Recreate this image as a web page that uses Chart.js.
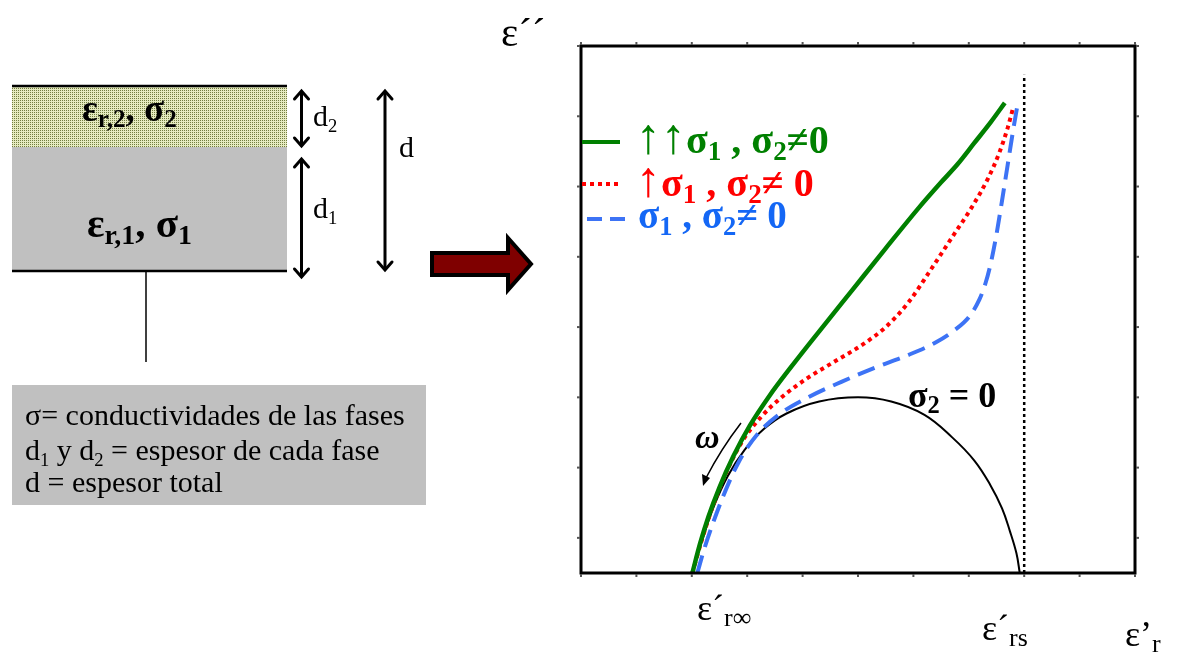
<!DOCTYPE html>
<html>
<head>
<meta charset="utf-8">
<title>Permitividad de un sistema de dos fases</title>
<script src="https://cdn.jsdelivr.net/npm/chart.js@4.4.1/dist/chart.umd.min.js"></script>
<style>
body { margin: 0; background: #fff; }
#wrap { position: relative; width: 1177px; height: 652px; overflow: hidden; font-family: "Liberation Serif", "Times New Roman", serif; color: #000; }
#wrap canvas { position: absolute; left: 0; top: 0; }
.t { position: absolute; white-space: nowrap; }
.s { font-size: 0.62em; position: relative; top: 0.3em; }
.g .s { font-size: 0.68em; top: 0.25em; }
.e .s { font-size: 0.72em; top: 0.22em; }
.b { font-weight: bold; }
.n { font-weight: normal; font-size: 1.25em; line-height: 0; }
</style>
</head>
<body>
<div id="wrap">
<canvas id="myChart" width="1177" height="652"></canvas>

<!-- esquema de las dos capas -->
<div class="t b g" style="left:82px;top:90px;font-size:37px;line-height:37px">ε<span class="s">r,2</span>, σ<span class="s">2</span></div>
<div class="t b g" style="left:87px;top:203px;font-size:41px;line-height:41px">ε<span class="s">r,1</span>, σ<span class="s">1</span></div>
<div class="t" style="left:313px;top:101px;font-size:30px;line-height:30px">d<span class="s">2</span></div>
<div class="t" style="left:313px;top:193px;font-size:30px;line-height:30px">d<span class="s">1</span></div>
<div class="t" style="left:399px;top:132px;font-size:30px;line-height:30px">d</div>
<div class="t" style="left:25px;top:400px;font-size:30px;line-height:30px">σ= conductividades de las fases</div>
<div class="t" style="left:25px;top:435px;font-size:30px;line-height:30px">d<span class="s">1</span> y d<span class="s">2</span> = espesor de cada fase</div>
<div class="t" style="left:25px;top:467px;font-size:30px;line-height:30px">d = espesor total</div>

<!-- ejes -->
<div class="t" style="left:501px;top:12px;font-size:41px;line-height:41px">ε´´</div>
<div class="t e" style="left:697px;top:590px;font-size:36px;line-height:36px">ε´<span class="s">r∞</span></div>
<div class="t e" style="left:982px;top:610px;font-size:36px;line-height:36px">ε´<span class="s">rs</span></div>
<div class="t e" style="left:1125px;top:616px;font-size:36px;line-height:36px">ε’<span class="s">r</span></div>

<!-- leyenda y anotaciones -->
<div class="t b g" style="left:636px;top:120px;font-size:40px;line-height:40px;color:#008000"><span class="n">↑↑</span>σ<span class="s">1</span> , σ<span class="s">2</span>≠0</div>
<div class="t b g" style="left:636px;top:163px;font-size:40px;line-height:40px;color:#ff0000"><span class="n">↑</span>σ<span class="s">1</span> , σ<span class="s">2</span>≠ 0</div>
<div class="t b g" style="left:638px;top:195px;font-size:39px;line-height:39px;color:#1467f5">σ<span class="s">1</span> , σ<span class="s">2</span>≠ 0</div>
<div class="t b g" style="left:908px;top:377px;font-size:36px;line-height:36px">σ<span class="s">2</span> = 0</div>
<div class="t b" style="left:695px;top:420px;font-size:34px;line-height:34px;font-style:italic">ω</div>
</div>

<script>
// marcas de los ejes (sin etiquetas numericas)
var xTicks = [0, 1, 2, 3, 4, 5, 6, 7, 8, 9, 10];
var yTicks = [0.5, 1.5, 2.5, 3.5, 4.5, 5.5, 6.5, 7.5];

// σ2 = 0 : semicirculo de Debye
var sigma0X = [2.01, 2.19, 2.4, 2.65, 2.95, 3.3, 3.71, 4.3, 5.0, 5.6, 6.2, 6.7, 7.1, 7.39, 7.6, 7.74, 7.86, 7.92];
var sigma0Y = [0, 0.47, 0.95, 1.38, 1.75, 2.05, 2.27, 2.44, 2.5, 2.44, 2.25, 1.93, 1.6, 1.25, 0.92, 0.6, 0.28, 0];

// ↑↑σ1 , σ2≠0
var verdeX = [2.01, 2.15, 2.3, 2.5, 2.75, 3.05, 3.4, 3.8, 4.3, 4.9, 5.5, 6.1, 6.5, 6.8, 7.1, 7.4, 7.65];
var verdeY = [0, 0.42, 0.8, 1.22, 1.66, 2.1, 2.52, 2.94, 3.44, 4.03, 4.62, 5.2, 5.56, 5.82, 6.12, 6.42, 6.69];

// ↑σ1 , σ2≠0
var rojoX = [2.01, 2.17, 2.37, 2.6, 2.9, 3.25, 3.65, 4.1, 4.6, 5.1, 5.5, 5.9, 6.3, 6.7, 7.05, 7.35, 7.55, 7.7, 7.8];
var rojoY = [0, 0.44, 0.93, 1.39, 1.86, 2.22, 2.52, 2.78, 3.02, 3.26, 3.5, 3.84, 4.3, 4.78, 5.2, 5.62, 5.98, 6.33, 6.62];

// σ1 , σ2≠0
var azulX = [2.1, 2.22, 2.36, 2.57, 2.84, 3.18, 3.6, 4.1, 4.7, 5.3, 5.9, 6.4, 6.75, 7.0, 7.19, 7.3, 7.4, 7.5, 7.6, 7.7, 7.8, 7.87];
var azulY = [0, 0.33, 0.66, 1.1, 1.57, 1.97, 2.27, 2.5, 2.72, 2.92, 3.1, 3.28, 3.46, 3.64, 3.89, 4.12, 4.42, 4.82, 5.3, 5.8, 6.3, 6.62];

// ε'rs
var limiteX = [8, 8];
var limiteY = [0, 7.09];

function puntos(xs, ys) {
	return xs.map(function(x, i) { return { x: x, y: ys[i] }; });
}

function linea(c, x1, y1, x2, y2) {
	c.beginPath();
	c.moveTo(x1, y1);
	c.lineTo(x2, y2);
	c.stroke();
}

// flecha de doble punta con puntas abiertas
function flechaDoble(c, x, y1, y2) {
	c.lineWidth = 3;
	c.lineCap = 'round';
	c.lineJoin = 'miter';
	linea(c, x, y1 + 1, x, y2 - 1);
	c.beginPath();
	c.moveTo(x - 7, y1 + 8); c.lineTo(x, y1); c.lineTo(x + 7, y1 + 8);
	c.stroke();
	c.beginPath();
	c.moveTo(x - 7, y2 - 8); c.lineTo(x, y2); c.lineTo(x + 7, y2 - 8);
	c.stroke();
}

var esquema = {
	id: 'esquema',
	afterDraw: function(chart) {
		var c = chart.ctx;
		c.save();

		// textura punteada de la fase 2
		var tile = document.createElement('canvas');
		tile.width = 2; tile.height = 2;
		var tc = tile.getContext('2d');
		tc.fillStyle = '#e6ebc0'; tc.fillRect(0, 0, 2, 2);
		tc.fillStyle = '#727d40'; tc.fillRect(0, 0, 1, 1);
		c.fillStyle = c.createPattern(tile, 'repeat');
		c.fillRect(12, 87, 275, 60);

		c.fillStyle = '#c0c0c0';
		c.fillRect(12, 147, 275, 124);
		c.fillRect(12, 385, 414, 120);

		c.strokeStyle = '#000';
		c.lineWidth = 2.5;
		linea(c, 12, 86, 287, 86);
		linea(c, 12, 271, 287, 271);
		c.lineWidth = 1.5;
		linea(c, 146, 271, 146, 362);

		flechaDoble(c, 301.5, 91, 146);
		flechaDoble(c, 301.5, 159, 277);
		flechaDoble(c, 385, 91, 270);

		// flecha grande
		c.beginPath();
		c.moveTo(432, 253); c.lineTo(508, 253); c.lineTo(508, 238);
		c.lineTo(531, 264); c.lineTo(508, 290); c.lineTo(508, 275);
		c.lineTo(432, 275); c.closePath();
		c.fillStyle = '#7f0000';
		c.fill();
		c.lineWidth = 4;
		c.lineJoin = 'miter';
		c.stroke();

		// sentido de ω creciente
		c.lineWidth = 1.5;
		c.lineCap = 'butt';
		c.beginPath();
		c.moveTo(741, 423);
		c.quadraticCurveTo(721, 449, 706, 478);
		c.stroke();
		c.beginPath();
		c.moveTo(703, 486); c.lineTo(702, 474); c.lineTo(710, 478);
		c.closePath();
		c.fillStyle = '#000';
		c.fill();
		c.restore();
	}
};

var marco = {
	id: 'marco',
	afterDatasetsDraw: function(chart) {
		var c = chart.ctx, a = chart.chartArea;
		var sx = chart.scales.x, sy = chart.scales.y;
		c.save();
		c.strokeStyle = '#000';
		c.lineWidth = 3;
		c.lineCap = 'square';
		c.strokeRect(a.left, a.top, a.right - a.left, a.bottom - a.top);
		c.lineWidth = 2;
		c.lineCap = 'butt';
		c.strokeStyle = '#555';
		xTicks.forEach(function(v) {
			var p = sx.getPixelForValue(v);
			linea(c, p, a.bottom + 1, p, a.bottom + 4);
			linea(c, p, a.top - 1, p, a.top - 4);
		});
		yTicks.forEach(function(v) {
			var p = sy.getPixelForValue(v);
			linea(c, a.left - 1, p, a.left - 4, p);
			linea(c, a.right + 1, p, a.right + 4, p);
		});

		// muestras de linea de la leyenda
		c.lineWidth = 4;
		c.strokeStyle = '#008000';
		linea(c, a.left + 1, 142, a.left + 39, 142);
		c.strokeStyle = '#ff0000';
		c.setLineDash([4, 4]);
		linea(c, a.left + 1, 184, a.left + 39, 184);
		c.strokeStyle = '#3d73f5';
		c.setLineDash([15, 8]);
		linea(c, a.left + 6, 219, a.left + 45, 219);
		c.restore();
	}
};

var ctx = document.getElementById('myChart').getContext('2d');
var chart = new Chart(ctx, {
	type : 'scatter',
	data : {
		datasets : [ {
			label : '↑↑σ1 , σ2≠0',
			data : puntos(verdeX, verdeY),
			borderColor : '#008000',
			borderWidth : 4.5,
			cubicInterpolationMode : 'monotone',
			showLine : true,
			order : 0
		}, {
			label : '↑σ1 , σ2≠0',
			data : puntos(rojoX, rojoY),
			borderColor : '#ff0000',
			borderWidth : 4,
			borderDash : [ 4, 4 ],
			cubicInterpolationMode : 'monotone',
			showLine : true,
			order : 1
		}, {
			label : 'σ1 , σ2≠0',
			data : puntos(azulX, azulY),
			borderColor : '#3d73f5',
			borderWidth : 4,
			borderDash : [ 18, 9 ],
			cubicInterpolationMode : 'monotone',
			showLine : true,
			order : 2
		}, {
			label : 'σ2 = 0',
			data : puntos(sigma0X, sigma0Y),
			borderColor : '#000',
			borderWidth : 2,
			showLine : true,
			order : 3
		}, {
			label : "ε'rs",
			data : puntos(limiteX, limiteY),
			borderColor : '#000',
			borderWidth : 2.5,
			borderDash : [ 3, 3 ],
			tension : 0,
			showLine : true,
			order : 4
		} ]
	},
	options : {
		responsive : false,
		animation : false,
		devicePixelRatio : 1,
		events : [],
		layout : {
			padding : { left : 581, top : 46, right : 42, bottom : 79 }
		},
		elements : {
			point : { radius : 0 },
			line : { tension : 0.4, fill : false, borderCapStyle : 'butt' }
		},
		scales : {
			x : { type : 'linear', min : 0, max : 10, display : false },
			y : { type : 'linear', min : 0, max : 7.5, display : false }
		},
		plugins : {
			legend : { display : false },
			tooltip : { enabled : false }
		}
	},
	plugins : [ esquema, marco ]
});
</script>
</body>
</html>
